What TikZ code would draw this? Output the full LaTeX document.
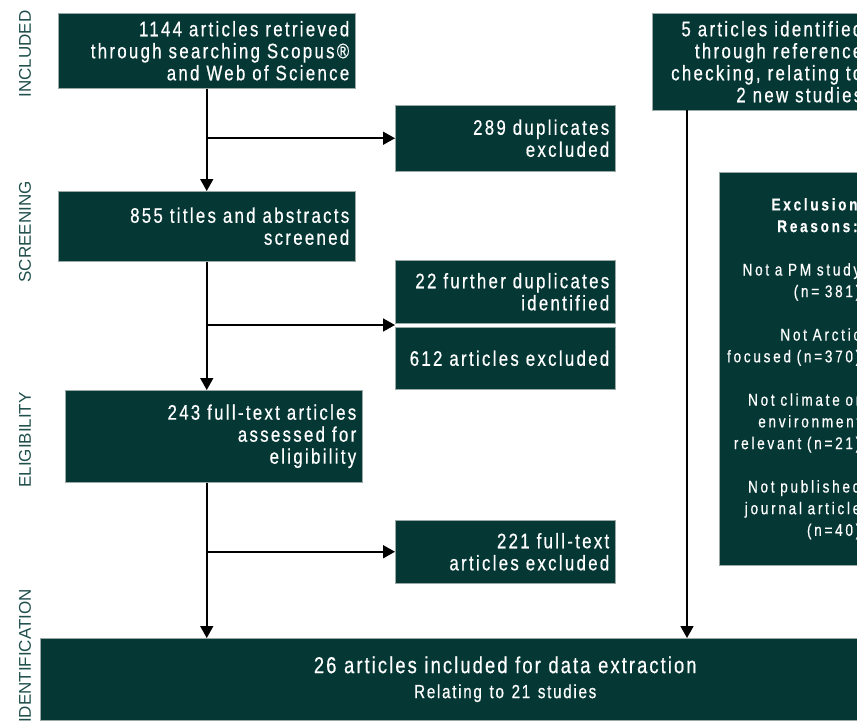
\documentclass[tikz,border=0pt]{standalone}
\usepackage{fontspec}
\usetikzlibrary{arrows.meta}
\newfontfamily\boxfont[FakeStretch=0.8,LetterSpace=11,FakeBold=0.6]{Liberation Sans}
\newfontfamily\exclfont[FakeStretch=0.8,LetterSpace=16,FakeBold=0.5]{Liberation Sans}
\newfontfamily\finalfont[FakeStretch=0.8,LetterSpace=9,FakeBold=0.5]{Liberation Sans}
\newfontfamily\labelfont{Liberation Sans}
\definecolor{boxteal}{HTML}{053735}
\definecolor{edgegray}{HTML}{9AA8A6}
\definecolor{labelteal}{HTML}{1F4F4C}
\tikzset{
  stagebox/.style={draw=edgegray, line width=0.5pt, fill=boxteal, text=white,
    anchor=north west, inner xsep=6pt, inner ysep=0pt, align=right,
    font=\boxfont\fontsize{21}{22}\selectfont},
  flowarrow/.style={draw, line width=1.7pt, -{Triangle[length=12pt,width=13pt]}},
  stagelabel/.style={rotate=90, text=labelteal, inner sep=0pt,
    font=\labelfont\fontsize{17}{17}\selectfont}
}
\begin{document}
\begin{tikzpicture}[x=1pt,y=-1pt]
\useasboundingbox (0,0) rectangle (857,723);
\clip (0,0) rectangle (857,723);

% stage labels
\node[stagelabel] (included) at (25,54) {INCLUDED};
\node[stagelabel] (screening) at (25,232) {SCREENING};
\node[stagelabel] (eligibility) at (25,440) {ELIGIBILITY};
\node[stagelabel] (identification) at (25,656) {IDENTIFICATION};

% left column
\node[stagebox, text width=285pt, minimum height=75pt] (a1144) at (58,13)
  {1144 articles retrieved\\ through searching Scopus®\\ and Web of Science};
\node[stagebox, text width=285pt, minimum height=70pt] (c855) at (58,191)
  {855 titles and abstracts\\ screened};
\node[stagebox, text width=285pt, minimum height=92pt] (f243) at (65,390)
  {243 full-text articles\\ assessed for\\ eligibility};

% excluded boxes
\node[stagebox, text width=208pt, minimum height=66pt] (b289) at (395,105)
  {289 duplicates\\ excluded};
\node[stagebox, text width=208pt, minimum height=63pt] (d22) at (395,260)
  {22 further duplicates\\ identified};
\node[stagebox, text width=208pt, minimum height=62pt] (e612) at (395,327)
  {612 articles excluded};
\node[stagebox, text width=208pt, minimum height=63pt] (g221) at (395,520)
  {221 full-text\\ articles excluded};

% right column
\node[stagebox, text width=204pt, minimum height=97pt] (i5) at (652,13)
  {5 articles identified\\ through reference\\ checking, relating to\\ 2 new studies};
\node[stagebox, text width=135pt, minimum height=393pt,
  font=\exclfont\fontsize{17}{21.7}\selectfont] (j) at (719,172)
  {\textbf{Exclusion}\\ \textbf{Reasons:}\\[21.7pt]
   Not a PM study\\ (n= 381)\\[21.7pt]
   Not Arctic\\ focused (n=370)\\[21.7pt]
   Not climate or\\ environment\\ relevant (n=21)\\[21.7pt]
   Not published\\ journal article\\ (n=40)\\[21.7pt] };

% final box
\node[stagebox, align=center, text width=918pt, minimum height=82pt,
  font=\finalfont\fontsize{23}{25}\selectfont] (h26) at (40,638)
  {26 articles included for data extraction\\
   {\fontsize{19}{20}\selectfont Relating to 21 studies}};

\coordinate (gap) at (395,325);
\coordinate (iout) at (687,110);

\path[flowarrow] (a1144.south) -- (c855.north);
\path[flowarrow] (a1144.south |- b289.west) -- (b289.west);
\path[flowarrow] (c855.south) -- (c855.south |- f243.north);
\path[flowarrow] (c855.south |- gap) -- (gap);
\path[flowarrow] (c855.south |- f243.south) -- (c855.south |- h26.north);
\path[flowarrow] (c855.south |- g221.west) -- (g221.west);
\path[flowarrow] (iout) -- (iout |- h26.north);
\end{tikzpicture}
\end{document}
